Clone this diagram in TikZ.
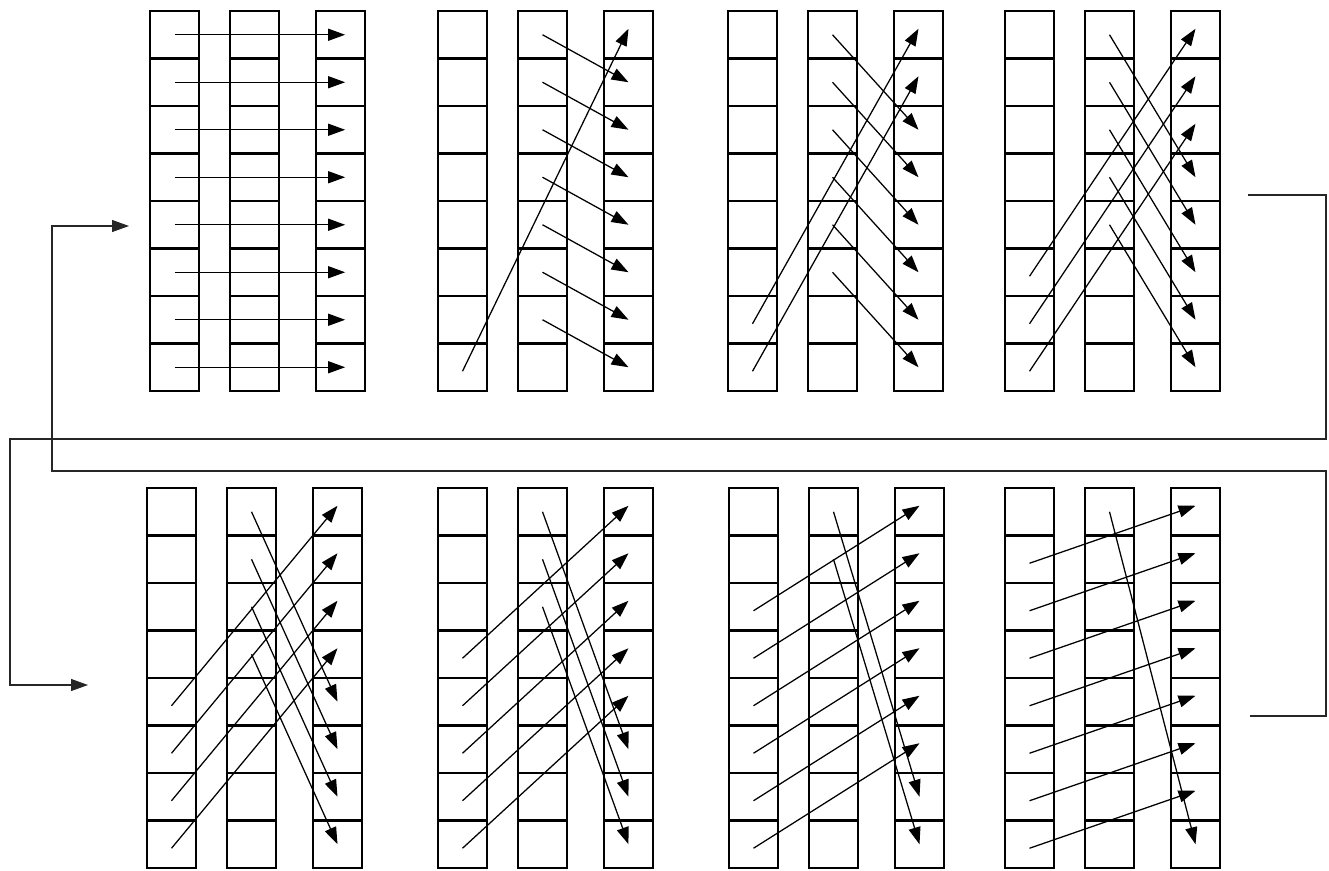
\documentclass[tikz,border=0pt]{standalone}
\usetikzlibrary{arrows.meta}
\begin{document}
\begin{tikzpicture}[x=0.75pt,y=-0.75pt,
  cell/.style={draw=black,line width=2.2pt,minimum width=36.75pt,minimum height=35.6pt,inner sep=0pt,outer sep=0pt},
  arr/.style={line width=0.95pt,-{Triangle[length=12.75pt,width=9pt]}},
  route/.style={draw=black!85,line width=0.8pt}]
\useasboundingbox (0,0) rectangle (1329,871);
% boxes
\foreach \k/\px/\py in {1/150/11,2/438/11,3/728/11,4/1005/11,5/147/488,6/438/488,7/729/488,8/1005/488}{
  \foreach \c/\dx in {1/0,2/80,3/166}{
    \foreach \r in {0,...,7}{
      \node[cell] (p\k c\c r\r) at (\px+\dx+24.5,\py+47.5*\r+23.75) {};
    }
  }
}
% panel 1: straight copy
\foreach \r in {0,...,7}{
  \draw[arr] (p1c1r\r.center) -- ([xshift=3.5pt]p1c3r\r.center);
}
% panels 2..8: shifted
\foreach \k in {2,...,8}{
  \pgfmathtruncatemacro\s{\k-1}
  \pgfmathtruncatemacro\m{7-\s}
  \pgfmathtruncatemacro\a{8-\s}
  \foreach \r in {0,...,\m}{
    \pgfmathtruncatemacro\t{\r+\s}
    \draw[arr] (p\k c2r\r.center) -- (p\k c3r\t.center);
  }
  \foreach \r in {\a,...,7}{
    \pgfmathtruncatemacro\t{\r-\a}
    \draw[arr] ([yshift=-3pt]p\k c1r\r.center) -- ([yshift=4.5pt]p\k c3r\t.center);
  }
}
% routing connectors
\coordinate (r1s) at (1248,195);
\coordinate (c1a) at (1326,439);
\coordinate (c1b) at (10,439);
\coordinate (r1e) at (88,685);
\coordinate (r2s) at (1250,716);
\coordinate (c2a) at (1326,471);
\coordinate (c2b) at (52,471);
\coordinate (r2e) at (129,226);
\draw[route,-{Triangle[length=12.75pt,width=9pt]}] (r1s) -| (c1a) -- (c1b) |- (r1e);
\draw[route,-{Triangle[length=12.75pt,width=9pt]}] (r2s) -| (c2a) -- (c2b) |- (r2e);
\end{tikzpicture}
\end{document}
